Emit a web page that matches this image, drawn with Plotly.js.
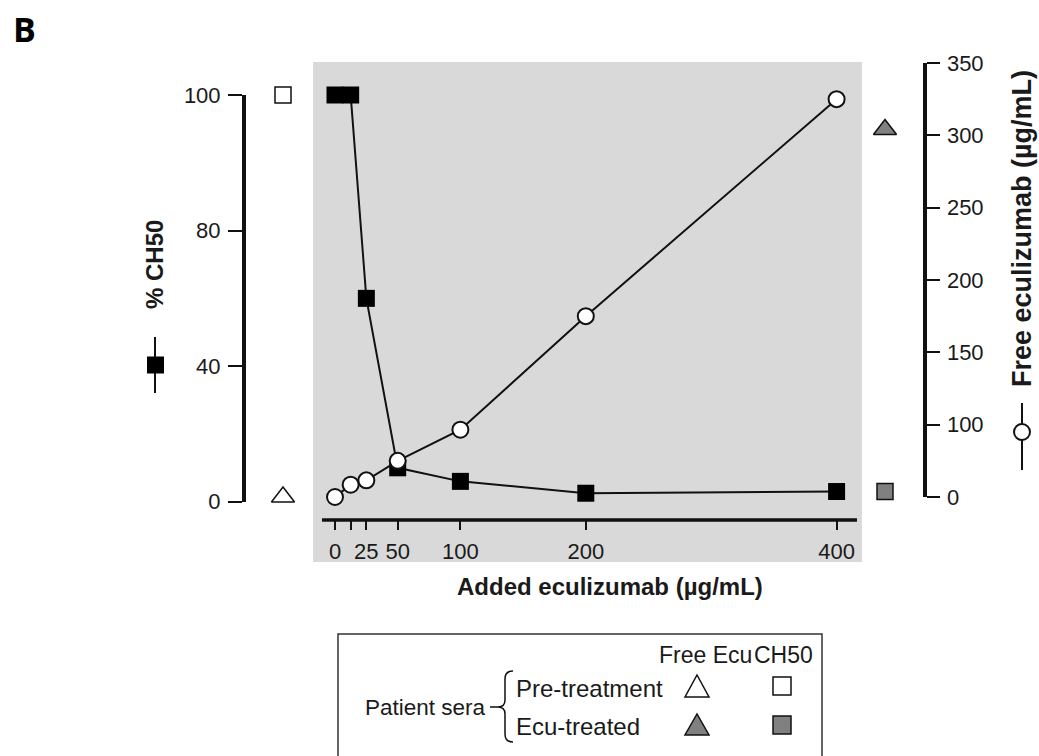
<!DOCTYPE html>
<html>
<head>
<meta charset="utf-8">
<script src="https://cdn.plot.ly/plotly-3.0.1.min.js"></script>
<style>
  html, body { margin: 0; padding: 0; background: #ffffff; }
  #chart { width: 1039px; height: 756px; }
</style>
</head>
<body>
<div id="chart"></div>
<script>
// Added eculizumab titration (µg/mL)
const added = [0, 12.5, 25, 50, 100, 200, 400];
// Complement activity (% CH50) at each added dose
const ch50 = [100, 100, 60, 10, 6, 2.5, 3];
// Free eculizumab measured (µg/mL) at each added dose
const freeEcu = [0, 17, 23, 50, 93, 175, 325];

// Patient sera reference values
const seraGroups = ['Pre-treatment', 'Ecu-treated'];
const seraCh50 = [100, 3];
const seraFreeEcu = [0, 304];

// Tick labels
const xTickVals = [0, 12.5, 25, 50, 100, 200, 400];
const xTickText = ['0', '', '25', '50', '100', '200', '400'];
const ch50TickVals = [0, 40, 80, 100];
const freeTickVals = [0, 100, 150, 200, 250, 300, 350];

// ---- layout helpers -------------------------------------------------------
const W = 1039, H = 756;
const X = px => px / W;          // pixel column -> paper fraction
const Y = py => 1 - py / H;      // pixel row -> paper fraction

// The CH50 axis is stretched above 80 % (80 -> 100 spans twice the space).
const ch50Pos = v => (v <= 80 ? v : 80 + 2 * (v - 80));
// The free-eculizumab axis compresses 0 -> 100 into one 50-unit step.
const freePos = v => (v >= 100 ? v : 50 + v / 2);

// x scale: one data unit = 1.254 px, dose 0 at pixel 335
const X0PX = 335, XSCALE = 1.254;
const xRange = [(0 - X0PX) / XSCALE, (W - X0PX) / XSCALE];
// columns for the patient-sera markers, left and right of the panel
const seraColumnX = [(283 - X0PX) / XSCALE, (885 - X0PX) / XSCALE];

const FONT = 'Liberation Sans, Arial, Helvetica, sans-serif';
const INK = '#111111';

const traces = [
  {
    name: '% CH50',
    x: added,
    y: ch50.map(ch50Pos),
    xaxis: 'x', yaxis: 'y',
    mode: 'lines+markers',
    line: { color: INK, width: 2 },
    marker: { symbol: 'square', size: 17, color: '#000000', line: { width: 0 } },
    cliponaxis: false
  },
  {
    name: 'Free eculizumab',
    x: added,
    y: freeEcu.map(freePos),
    xaxis: 'x', yaxis: 'y2',
    mode: 'lines+markers',
    line: { color: INK, width: 2 },
    marker: { symbol: 'circle', size: 16, color: '#ffffff', line: { color: INK, width: 2 } },
    cliponaxis: false
  },
  {
    name: 'Patient sera CH50',
    text: seraGroups,
    x: seraColumnX,
    y: seraCh50.map(ch50Pos),
    xaxis: 'x', yaxis: 'y',
    mode: 'markers',
    marker: { symbol: 'square', size: 16, color: ['#ffffff', '#808080'], line: { color: INK, width: 1.5 } },
    cliponaxis: false
  },
  {
    name: 'Patient sera free Ecu',
    text: seraGroups,
    x: seraColumnX,
    y: seraFreeEcu.map(freePos),
    xaxis: 'x', yaxis: 'y2',
    mode: 'markers',
    marker: { symbol: 'triangle-up', size: 20, color: ['#ffffff', '#808080'], line: { color: INK, width: 1.5 } },
    cliponaxis: false
  }
];

// ---- decorations: panel background, x axis line, legend box -------------
const pathFrom = pts => pts.map(p => p[0] + X(p[1]).toFixed(5) + ',' + Y(p[2]).toFixed(5)).join(' ');
const triangle = (cx, top, bottom, half) =>
  pathFrom([['M', cx - half, bottom], ['L', cx + half, bottom], ['L', cx, top]]) + ' Z';

const shapes = [
  // grey panel
  { type: 'rect', xref: 'paper', yref: 'paper', layer: 'below',
    x0: X(313), x1: X(862), y0: Y(562), y1: Y(62),
    fillcolor: '#d9d9d9', line: { width: 0 } },
  // x axis line, spanning just past the dose range
  { type: 'line', xref: 'paper', yref: 'paper', layer: 'above',
    x0: X(322), x1: X(857), y0: Y(520), y1: Y(520),
    line: { color: INK, width: 3.5 } },
  // left axis-title key: line with filled square
  { type: 'line', xref: 'paper', yref: 'paper', x0: X(155), x1: X(155), y0: Y(337), y1: Y(393),
    line: { color: INK, width: 2 } },
  { type: 'rect', xref: 'paper', yref: 'paper', x0: X(147), x1: X(164), y0: Y(356.5), y1: Y(373.5),
    fillcolor: '#000000', line: { width: 0 } },
  // right axis-title key: line with open circle
  { type: 'line', xref: 'paper', yref: 'paper', x0: X(1022), x1: X(1022), y0: Y(403), y1: Y(470),
    line: { color: INK, width: 2 } },
  { type: 'circle', xref: 'paper', yref: 'paper', x0: X(1014), x1: X(1030), y0: Y(424), y1: Y(440),
    fillcolor: '#ffffff', line: { color: INK, width: 2 } },
  // legend frame (open at the bottom edge of the figure)
  { type: 'rect', xref: 'paper', yref: 'paper', x0: X(338), x1: X(822), y0: Y(634), y1: Y(762),
    fillcolor: 'rgba(0,0,0,0)', line: { color: '#333333', width: 1.5 } },
  // brace grouping the two sera rows
  { type: 'path', xref: 'paper', yref: 'paper',
    path: pathFrom([['M', 513, 671], ['Q', 505, 671], ['', 505, 679], ['L', 505, 700],
                    ['Q', 505, 707], ['', 498, 707], ['L', 490, 707], ['M', 498, 707],
                    ['Q', 505, 707], ['', 505, 714], ['L', 505, 734], ['Q', 505, 742], ['', 513, 742]]),
    line: { color: INK, width: 1.5 } },
  // legend symbols: pre-treatment (open) and ecu-treated (grey)
  { type: 'path', xref: 'paper', yref: 'paper', path: triangle(697, 675, 697, 12),
    fillcolor: '#ffffff', line: { color: INK, width: 1.5 } },
  { type: 'rect', xref: 'paper', yref: 'paper', x0: X(773), x1: X(791), y0: Y(677), y1: Y(695),
    fillcolor: '#ffffff', line: { color: INK, width: 1.5 } },
  { type: 'path', xref: 'paper', yref: 'paper', path: triangle(697, 714, 735, 12),
    fillcolor: '#808080', line: { color: INK, width: 1.5 } },
  { type: 'rect', xref: 'paper', yref: 'paper', x0: X(773), x1: X(791), y0: Y(716), y1: Y(734),
    fillcolor: '#808080', line: { color: INK, width: 1.5 } }
];

const txt = (text, px, py, opts) => Object.assign({
  text: text, xref: 'paper', yref: 'paper', x: X(px), y: Y(py),
  xanchor: 'center', yanchor: 'middle', showarrow: false,
  font: { family: FONT, size: 24, color: '#1a1a1a' }
}, opts || {});
const legendFont = size => ({ family: FONT, size: size, color: '#1a1a1a' });

const annotations = [
  txt('<b>B</b>', 24, 29, { font: { family: 'Open Sans, Noto Sans, sans-serif', size: 34, color: '#000000' } }),
  txt('<b>Added eculizumab (µg/mL)</b>', 610, 586),
  txt('<b>% CH50</b>', 155, 265, { textangle: -90 }),
  txt('<b>Free eculizumab (µg/mL)</b>', 1022, 229, { textangle: -90, font: legendFont(27) }),
  txt('Free Ecu', 657, 655, { xanchor: 'left', font: legendFont(23) }),
  txt('CH50', 815, 655, { xanchor: 'right', font: legendFont(23) }),
  txt('Patient sera', 363, 707, { xanchor: 'left', font: legendFont(22.5) }),
  txt(seraGroups[0], 514, 688, { xanchor: 'left' }),
  txt(seraGroups[1], 514, 726, { xanchor: 'left' })
];

const tickFont = { family: FONT, size: 22, color: '#1a1a1a' };

const layout = {
  width: W, height: H,
  margin: { l: 0, r: 0, t: 0, b: 0, pad: 0 },
  paper_bgcolor: '#ffffff',
  plot_bgcolor: 'rgba(0,0,0,0)',
  showlegend: false,
  xaxis: {
    domain: [0, 1], range: xRange, anchor: 'free', position: Y(520),
    showline: false, showgrid: false, zeroline: false,
    ticks: 'outside', ticklen: 9, tickwidth: 2, tickcolor: INK,
    tickmode: 'array', tickvals: xTickVals, ticktext: xTickText,
    tickfont: tickFont, ticklabelstandoff: 3
  },
  yaxis: {
    domain: [Y(501.7), Y(95)], range: [0, ch50Pos(100)],
    anchor: 'free', position: X(243), side: 'left',
    showline: true, linewidth: 3.5, linecolor: INK,
    showgrid: false, zeroline: false,
    ticks: 'outside', ticklen: 14, tickwidth: 2, tickcolor: INK,
    tickmode: 'array', tickvals: ch50TickVals.map(ch50Pos), ticktext: ch50TickVals.map(String),
    tickfont: tickFont, ticklabelstandoff: 3
  },
  yaxis2: {
    domain: [Y(497), Y(63)], range: [freePos(0), freePos(350)],
    anchor: 'free', position: X(924), side: 'right',
    showline: true, linewidth: 3.5, linecolor: INK,
    showgrid: false, zeroline: false,
    ticks: 'outside', ticklen: 13, tickwidth: 2, tickcolor: INK,
    tickmode: 'array', tickvals: freeTickVals.map(freePos), ticktext: freeTickVals.map(String),
    tickfont: tickFont, ticklabelstandoff: 3
  },
  shapes: shapes,
  annotations: annotations
};

Plotly.newPlot('chart', traces, layout, { staticPlot: true, displayModeBar: false });
</script>
</body>
</html>
